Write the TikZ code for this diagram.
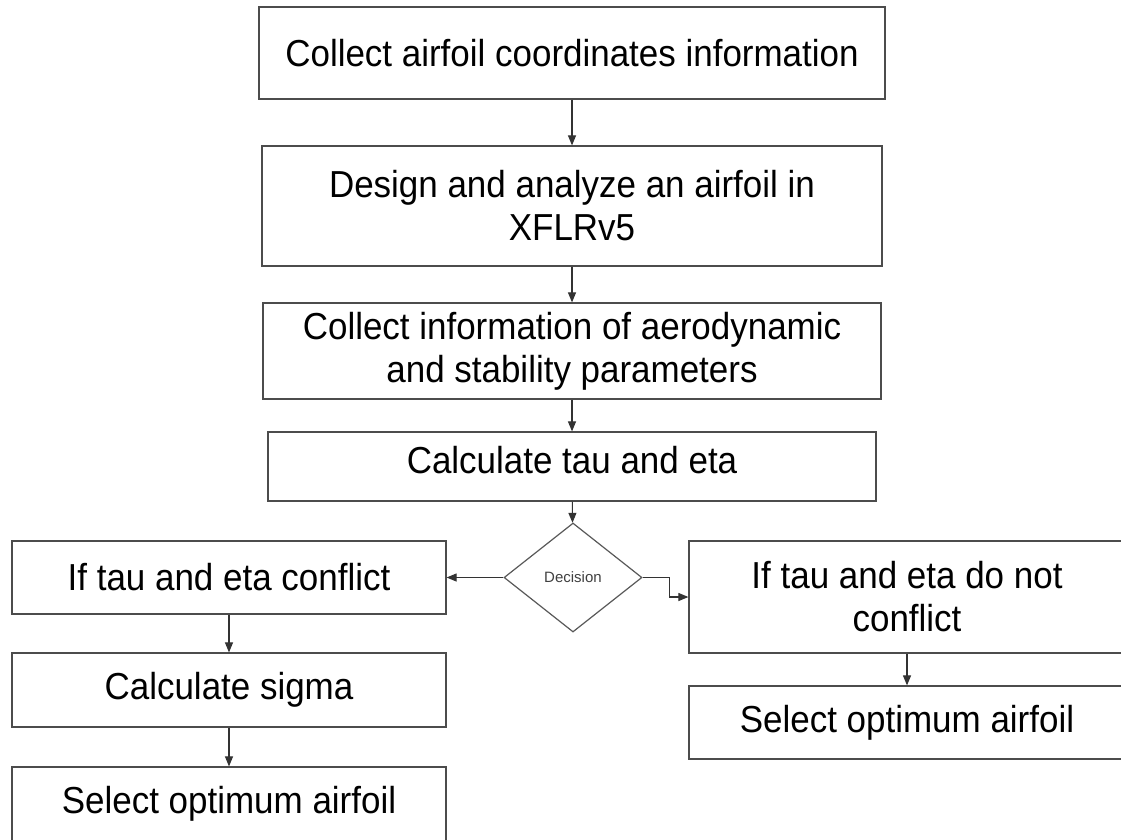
\documentclass[tikz,border=0pt]{standalone}
\usepackage{fontspec}
\setmainfont{Liberation Sans}
\newfontfamily\narrowsans[FakeStretch=0.93]{Liberation Sans}
\usetikzlibrary{shapes.geometric,arrows.meta}
\tikzset{
  boxnode/.style={draw=black!70, line width=1.2pt, rectangle, inner sep=0pt,
    align=center, font=\narrowsans\fontsize{37.6}{43}\selectfont, text=black},
  decnode/.style={draw=black!65, line width=1.2pt, diamond, inner sep=0pt,
    minimum width=138pt, minimum height=109pt,
    font=\fontsize{15}{17}\selectfont, text=black!75},
  arr/.style={draw=black!80, line width=1.1pt, -{Triangle[length=10pt,width=8pt]}}
}
\begin{document}
\begin{tikzpicture}[x=1pt,y=-1pt]
\clip (0,0) rectangle (1121,839);
\fill[white] (0,0) rectangle (1121,839);
\node[boxnode, minimum width=626pt, minimum height=92pt] (b1) at (572,53) {Collect airfoil coordinates information};
\node[boxnode, minimum width=620pt, minimum height=120pt] (b2) at (572,206) {Design and analyze an airfoil in\\XFLRv5};
\node[boxnode, minimum width=618pt, minimum height=96pt] (b3) at (572,351) {Collect information of aerodynamic\\and stability parameters};
\node[boxnode, minimum width=608pt, minimum height=69pt] (b4) at (572,466.5) {Calculate tau and eta\rule[-14pt]{0pt}{0pt}};
\node[decnode] (dec) at (573,577.5) {Decision};
\node[boxnode, minimum width=434pt, minimum height=73pt] (l1) at (229,577.5) {If tau and eta conflict};
\node[boxnode, minimum width=434pt, minimum height=74pt] (l2) at (229,690) {Calculate sigma};
\node[boxnode, minimum width=434pt, minimum height=74pt] (l3) at (229,804) {Select optimum airfoil};
\node[boxnode, minimum width=436pt, minimum height=112pt] (r1) at (907,597) {If tau and eta do not\\conflict};
\node[boxnode, minimum width=436pt, minimum height=73pt] (r2) at (907,722.5) {Select optimum airfoil};
\draw[arr] (b1) -- (b2);
\draw[arr] (b2) -- (b3);
\draw[arr] (b3) -- (b4);
\draw[arr] (b4) -- (dec);
\draw[arr] (dec.west) -- (l1.east);
\draw[arr] (dec.east) -- ++(27,0) |- (r1.west);
\draw[arr] (l1) -- (l2);
\draw[arr] (l2) -- (l3);
\draw[arr] (r1) -- (r2);
\end{tikzpicture}
\end{document}
